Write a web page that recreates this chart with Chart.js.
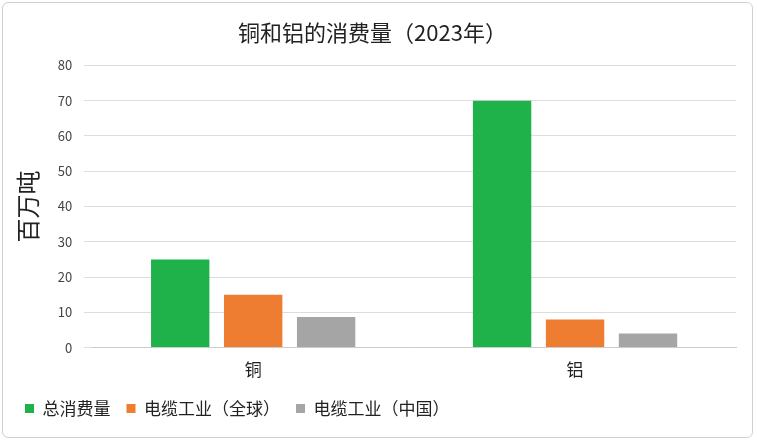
<!DOCTYPE html>
<html><head><meta charset="utf-8">
<script src="https://cdn.jsdelivr.net/npm/chart.js@4"></script>
<style>body{margin:0;background:#fff}#w{position:absolute;left:2px;top:2px;width:751px;height:436px;border:1px solid #d0d0d0;border-radius:6px;box-sizing:border-box}</style>
</head><body><div id="w"><canvas id="c"></canvas></div>
<script>
const categories=["铜","铝"];
const seriesNames=["总消费量","电缆工业（全球）","电缆工业（中国）"];
const total=[25,70];
const cableGlobal=[15,8];
const cableChina=[8.7,4];
const colors=["#1fb24a","#ef7d31","#a5a5a5"];
const F="'Noto Sans CJK SC','Noto Sans',sans-serif";
new Chart(document.getElementById('c'),{type:'bar',
data:{labels:categories,datasets:[total,cableGlobal,cableChina].map((d,i)=>({label:seriesNames[i],data:d,backgroundColor:colors[i],categoryPercentage:0.68,barPercentage:0.8}))},
options:{responsive:true,maintainAspectRatio:false,animation:false,
layout:{padding:{left:6,right:16,top:6,bottom:10}},
plugins:{title:{display:true,text:'铜和铝的消费量（2023年）',font:{family:F,size:22,weight:'normal'},color:'#222',padding:{top:10,bottom:20}},
legend:{position:'bottom',align:'start',labels:{font:{family:F,size:17},color:'#222',boxWidth:9,boxHeight:9,padding:16}}},
scales:{x:{grid:{display:false},border:{color:'#ccc'},ticks:{font:{family:F,size:17},color:'#222',padding:4}},
y:{min:0,max:80,ticks:{stepSize:10,font:{family:F,size:13},color:'#444',padding:12},grid:{color:'#ddd'},border:{display:false},
title:{display:true,text:'百万吨',font:{family:F,size:24},color:'#222'}}}}});
</script></body></html>
